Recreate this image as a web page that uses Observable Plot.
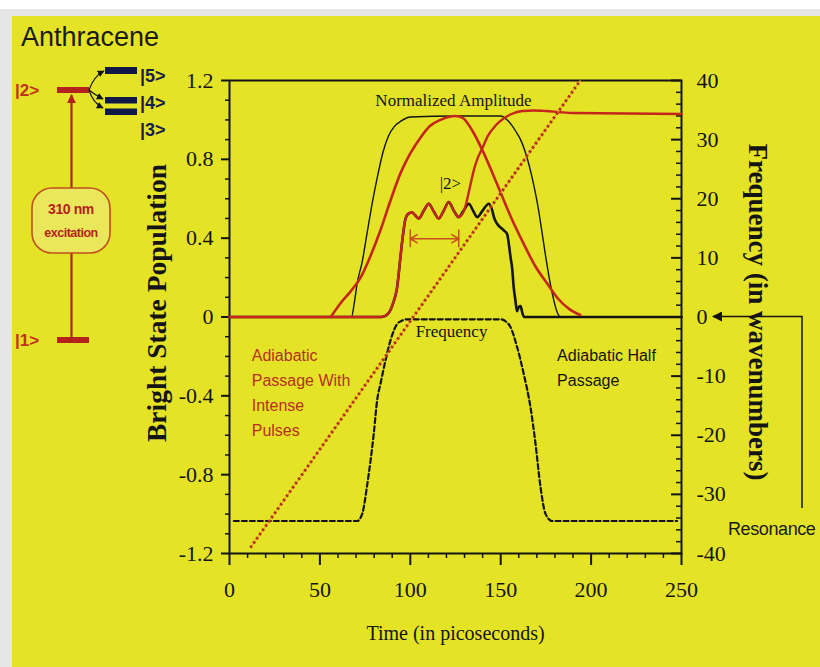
<!DOCTYPE html>
<html><head><meta charset="utf-8">
<script src="https://cdn.jsdelivr.net/npm/d3@7"></script>
<script src="https://cdn.jsdelivr.net/npm/@observablehq/plot@0.6"></script>
<style>
html,body{margin:0;padding:0;background:#fff;}
#page{position:relative;width:820px;height:667px;overflow:hidden;background:#fff;}
#band{position:absolute;left:0;top:9px;width:820px;height:658px;background:#e6e6e6;}
#slide{position:absolute;left:12px;top:16px;width:808px;height:651px;background:#e4e326;}
#chart{position:absolute;left:0;top:0;}
#overlay{position:absolute;left:0;top:0;}
</style></head><body>
<div id="page"><div id="band"></div><div id="slide"></div><div id="chart"></div><svg id="overlay" width="820" height="667"></svg></div>
<script>
// ---- tick labels ----
const timeTicks = [0, 50, 100, 150, 200, 250];
const timeLabels = ["0", "50", "100", "150", "200", "250"];
const popTicks = [-1.2, -0.8, -0.4, 0, 0.4, 0.8, 1.2];
const popLabels = ["-1.2", "-0.8", "-0.4", "0", "0.4", "0.8", "1.2"];
const freqTicks = [-40, -30, -20, -10, 0, 10, 20, 30, 40];
const freqLabels = ["-40", "-30", "-20", "-10", "0", "10", "20", "30", "40"];

// ---- series (time in ps) ----
// Normalized amplitude (thin black, flat-top pulse)
const ampTime  = [0, 67.5, 69, 70.6, 73.4, 76, 79, 82, 85, 88, 91, 95, 100, 125, 150, 153.6, 156, 158.5, 161, 163.5, 166, 168.5, 171, 173, 175, 177, 179, 181, 183, 250];
const ampValue = [0, 0, 0.07, 0.17, 0.28, 0.42, 0.58, 0.72, 0.84, 0.92, 0.965, 0.995, 1.015, 1.02, 1.02, 1.0, 0.975, 0.94, 0.9, 0.84, 0.76, 0.66, 0.54, 0.42, 0.3, 0.19, 0.1, 0.03, 0, 0];
// Gaussian pump pulse (red)
const pulseTime  = [56, 61.4, 67, 72.5, 78, 83.5, 89, 94.6, 100, 105.6, 111, 116.7, 121, 125, 129, 134, 140.7, 145, 150, 156, 162.8, 169, 175.7, 182, 188, 194];
const pulseValue = [0, 0.07, 0.13, 0.2, 0.31, 0.44, 0.59, 0.73, 0.83, 0.91, 0.97, 1.0, 1.015, 1.02, 1.01, 0.95, 0.83, 0.74, 0.63, 0.5, 0.37, 0.26, 0.17, 0.09, 0.04, 0.01];
// Adiabatic passage with intense pulses (red)
const passageTime  = [0, 84, 88, 90.5, 92.7, 94.5, 96, 97.4, 99, 101, 102.8, 104.7, 107.5, 110.2, 113, 115.7, 118.5, 121.3, 124, 126.8, 129, 131, 133, 135, 137, 140, 143, 147, 152, 156, 162, 168, 175, 182, 190, 250];
const passageValue = [0, 0, 0.02, 0.07, 0.15, 0.3, 0.42, 0.5, 0.525, 0.53, 0.515, 0.5, 0.54, 0.575, 0.535, 0.5, 0.54, 0.583, 0.54, 0.507, 0.525, 0.58, 0.66, 0.74, 0.8, 0.86, 0.92, 0.97, 1.01, 1.03, 1.045, 1.048, 1.045, 1.04, 1.035, 1.03];
// Bright state |2> population, adiabatic half passage (thick black)
const brightTime  = [0, 84, 88, 90.5, 92.7, 94.5, 96, 97.4, 99, 101, 102.8, 104.7, 107.5, 110.2, 113, 115.7, 118.5, 121.3, 124, 126.8, 129.5, 132.4, 134.7, 137, 140, 143.4, 145, 146.5, 148, 151.7, 153.6, 154.5, 155.5, 156.3, 157.2, 158.2, 159, 160, 161, 162, 163, 250];
const brightValue = [0, 0, 0.02, 0.07, 0.15, 0.3, 0.42, 0.5, 0.525, 0.53, 0.515, 0.5, 0.54, 0.575, 0.535, 0.5, 0.54, 0.583, 0.54, 0.507, 0.54, 0.575, 0.54, 0.507, 0.54, 0.575, 0.55, 0.5, 0.473, 0.44, 0.42, 0.37, 0.3, 0.25, 0.15, 0.08, 0.03, 0.05, 0.055, 0.02, 0, 0];
// Frequency detuning (dashed, wavenumbers, right axis)
const freqTime  = [2.4, 70.6, 73.4, 76.2, 79.8, 81.7, 83.5, 86.3, 89, 92.7, 95.5, 98.3, 150, 153, 155.4, 159, 162.8, 166.5, 169.2, 172, 174.8, 178.5, 247.6];
const freqValue = [-34.5, -34.5, -33.3, -28.3, -19.7, -14, -11.3, -7.3, -4, -1.2, -0.6, -0.4, -0.4, -0.8, -1.7, -5, -9.7, -15.3, -21.3, -28.7, -33.3, -34.5, -34.5];
// Linear chirp (dotted, wavenumbers, right axis)
const chirpTime = [11.6, 194];
const chirpFreq = [-39, 40];
// Level spacing marker (ps) and its height on the population axis
const spacingTime = [100, 126.8];
const spacingLevel = 0.397;

// ---- annotations ----
const notes = [
  {text: "Normalized Amplitude", time: 123.9, value: 1.099},
  {text: "|2>", time: 122.2, value: 0.678},
  {text: "Frequency", time: 122.8, value: -0.074}
];
const redNote = {text: "Adiabatic\nPassage With\nIntense\nPulses", time: 12.3, value: -0.135};
const blackNote = {text: "Adiabatic Half\nPassage", time: 181.2, value: -0.135};

const F2Y = 1.2 / 40;
const rows = (xs, ys, k = 1) => xs.map((x, i) => ({x, y: ys[i] * k}));
const W = 820, H = 667, ML = 229, MR = 139, MT = 80, MB = 114;
const frameW = W - ML - MR;
const serif = "'Liberation Serif','Times New Roman',serif";
const sans = "'Liberation Sans',Arial,sans-serif";
const RED = "#c4261c";
const INK = "#141414";
const label = (ticks, labels, k = 1) => d => labels[ticks.findIndex(t => Math.abs(t * k - d) < 1e-6)];
const popMinor = d3.range(-12, 13).filter(i => i % 4 !== 0).map(i => i / 10);
const timeMinor = d3.range(0, 251, 10).filter(t => t % 50 !== 0);
const freqMinor = d3.range(-40, 41, 2).filter(f => f % 10 !== 0);
const spacingMid = (spacingTime[0] + spacingTime[1]) / 2;

const chart = Plot.plot({
  width: W, height: H,
  marginLeft: ML, marginRight: MR, marginTop: MT, marginBottom: MB,
  style: {background: "transparent", fontFamily: serif, color: INK},
  x: {domain: [0, 250]},
  y: {domain: [-1.2, 1.2]},
  marks: [
    Plot.axisX({ticks: timeTicks, tickFormat: label(timeTicks, timeLabels), tickSize: 12, tickPadding: 16, fontSize: 22, strokeWidth: 2, label: null}),
    Plot.axisX({ticks: timeMinor, tickSize: 5, text: null, strokeWidth: 1.5, label: null}),
    Plot.axisY({anchor: "left", ticks: popTicks, tickFormat: label(popTicks, popLabels), tickSize: 8, tickPadding: 8, fontSize: 22, strokeWidth: 2, label: null}),
    Plot.axisY({anchor: "left", ticks: popMinor, tickSize: 4, text: null, strokeWidth: 1.5, label: null}),
    Plot.axisY({anchor: "right", ticks: freqTicks.map(f => f * F2Y), tickFormat: label(freqTicks, freqLabels, F2Y), tickSize: 0, tickPadding: 15, fontSize: 22, label: null}),
    Plot.tickY(freqTicks.map(f => f * F2Y), {y: d => d, insetLeft: frameW - 10, stroke: INK, strokeWidth: 2}),
    Plot.tickY(freqMinor.map(f => f * F2Y), {y: d => d, insetLeft: frameW - 5, stroke: INK, strokeWidth: 1.5}),
    Plot.frame({stroke: INK, strokeWidth: 2}),
    // curves
    Plot.line(rows(ampTime, ampValue), {x: "x", y: "y", stroke: INK, strokeWidth: 1.4, curve: "monotone-x"}),
    Plot.line(rows(brightTime, brightValue), {x: "x", y: "y", stroke: INK, strokeWidth: 2.6, curve: "monotone-x"}),
    Plot.line(rows(freqTime, freqValue, F2Y), {x: "x", y: "y", stroke: INK, strokeWidth: 2.2, strokeDasharray: "5,3", curve: "monotone-x"}),
    Plot.line(rows(pulseTime, pulseValue), {x: "x", y: "y", stroke: RED, strokeWidth: 2.6, curve: "monotone-x"}),
    Plot.line(rows(passageTime, passageValue), {x: "x", y: "y", stroke: RED, strokeWidth: 2.4, curve: "monotone-x"}),
    Plot.line(rows(chirpTime, chirpFreq, F2Y), {x: "x", y: "y", stroke: "#e8a030", strokeWidth: 1.2}),
    Plot.line(rows(chirpTime, chirpFreq, F2Y), {x: "x", y: "y", stroke: "#b42a1a", strokeWidth: 3, strokeDasharray: "2.2,3", strokeLinecap: "butt"}),
    // level-spacing double arrow
    Plot.arrow([0, 1], {x1: spacingMid, x2: i => spacingTime[i], y1: spacingLevel, y2: spacingLevel, stroke: "#c8501e", strokeWidth: 1.5, headLength: 9, bend: 0}),
    Plot.ruleX(spacingTime, {x: d => d, y1: spacingLevel - 0.045, y2: spacingLevel + 0.045, stroke: "#c8501e", strokeWidth: 1.5}),
    // annotations
    Plot.text(notes, {x: "time", y: "value", text: "text", fontSize: 17, fill: INK}),
    Plot.text([redNote], {x: "time", y: "value", text: "text", textAnchor: "start", lineAnchor: "top", lineHeight: 1.56, fontSize: 16, fontFamily: sans, fill: "#b5301c"}),
    Plot.text([blackNote], {x: "time", y: "value", text: "text", textAnchor: "start", lineAnchor: "top", lineHeight: 1.56, fontSize: 16, fontFamily: sans, fill: INK}),
    // axis titles
    Plot.text(["Bright State Population"], {frameAnchor: "left", textAnchor: "middle", lineAnchor: "middle", dx: -72, dy: -14, rotate: -90, text: d => d, fontSize: 27.5, fontWeight: "bold", fill: INK}),
    Plot.text(["Frequency (in wavenumbers)"], {frameAnchor: "right", textAnchor: "middle", lineAnchor: "middle", dx: 76, dy: -5, rotate: 90, text: d => d, fontSize: 27, fontWeight: "bold", fill: INK}),
    Plot.text(["Time (in picoseconds)"], {frameAnchor: "bottom", textAnchor: "middle", lineAnchor: "middle", dy: 80, text: d => d, fontSize: 20, fill: INK})
  ]
});
document.getElementById("chart").appendChild(chart);

// ---- energy-level schematic and resonance pointer ----
const svg = d3.select("#overlay");
const defs = svg.append("defs");
function marker(id, color, size) {
  defs.append("marker").attr("id", id).attr("viewBox", "0 0 10 10").attr("refX", 9).attr("refY", 5)
    .attr("markerWidth", size).attr("markerHeight", size).attr("markerUnits", "userSpaceOnUse").attr("orient", "auto")
    .append("path").attr("d", "M0,0L10,5L0,10z").attr("fill", color);
}
marker("ahRed", "#b4231b", 9);
marker("ahBlack", INK, 7);
marker("ahRes", INK, 10);

const LRED = "#b4231b", NAVY = "#101848";
svg.append("text").attr("x", 21).attr("y", 46).attr("font-family", sans).attr("font-size", 27).attr("fill", "#1a1a1a").text("Anthracene");

svg.append("line").attr("x1", 71.5).attr("y1", 338).attr("x2", 71.5).attr("y2", 95)
  .attr("stroke", LRED).attr("stroke-width", 2.2).attr("marker-end", "url(#ahRed)");
svg.append("rect").attr("x", 57).attr("y", 87).attr("width", 32).attr("height", 6).attr("fill", LRED);
svg.append("rect").attr("x", 57).attr("y", 337).attr("width", 32).attr("height", 6).attr("fill", LRED);
svg.append("text").attr("x", 15).attr("y", 96).attr("font-family", sans).attr("font-weight", "bold").attr("font-size", 17).attr("fill", "#c0301c").text("|2>");
svg.append("text").attr("x", 15).attr("y", 346).attr("font-family", sans).attr("font-weight", "bold").attr("font-size", 17).attr("fill", "#c0301c").text("|1>");

svg.append("rect").attr("x", 32).attr("y", 188).attr("width", 78).attr("height", 65).attr("rx", 20)
  .attr("fill", "#eae75a").attr("stroke", "#c0501e").attr("stroke-width", 1.6);
svg.append("text").attr("x", 71).attr("y", 214).attr("text-anchor", "middle").attr("font-family", sans).attr("font-weight", "bold").attr("font-size", 14).attr("letter-spacing", -0.4).attr("fill", LRED).text("310 nm");
svg.append("text").attr("x", 71).attr("y", 237).attr("text-anchor", "middle").attr("font-family", sans).attr("font-weight", "bold").attr("font-size", 12.5).attr("letter-spacing", -0.5).attr("fill", LRED).text("excitation");

[[67, 7], [97, 6.5], [108.5, 6.5]].forEach(([y, h]) =>
  svg.append("rect").attr("x", 105).attr("y", y).attr("width", 32).attr("height", h).attr("fill", NAVY));
[["|5>", 82], ["|4>", 109], ["|3>", 136]].forEach(([t, y]) =>
  svg.append("text").attr("x", 140).attr("y", y).attr("font-family", sans).attr("font-weight", "bold").attr("font-size", 18).attr("fill", "#1a1f4a").text(t));
["M89,90 Q94,76 104,71", "M89,90 Q95,95 103,99", "M89,90 Q93,103 103,108"].forEach(d =>
  svg.append("path").attr("d", d).attr("fill", "none").attr("stroke", INK).attr("stroke-width", 1.2).attr("marker-end", "url(#ahBlack)"));

const y0 = chart.scale("y").apply(0);
svg.append("path").attr("d", `M802,508 L802,${y0} L713,${y0}`).attr("fill", "none").attr("stroke", INK).attr("stroke-width", 1.5).attr("marker-end", "url(#ahRes)");
svg.append("text").attr("x", 728).attr("y", 535).attr("font-family", sans).attr("font-size", 18).attr("letter-spacing", -0.4).attr("fill", "#1a1a1a").text("Resonance");
</script>
</body></html>
